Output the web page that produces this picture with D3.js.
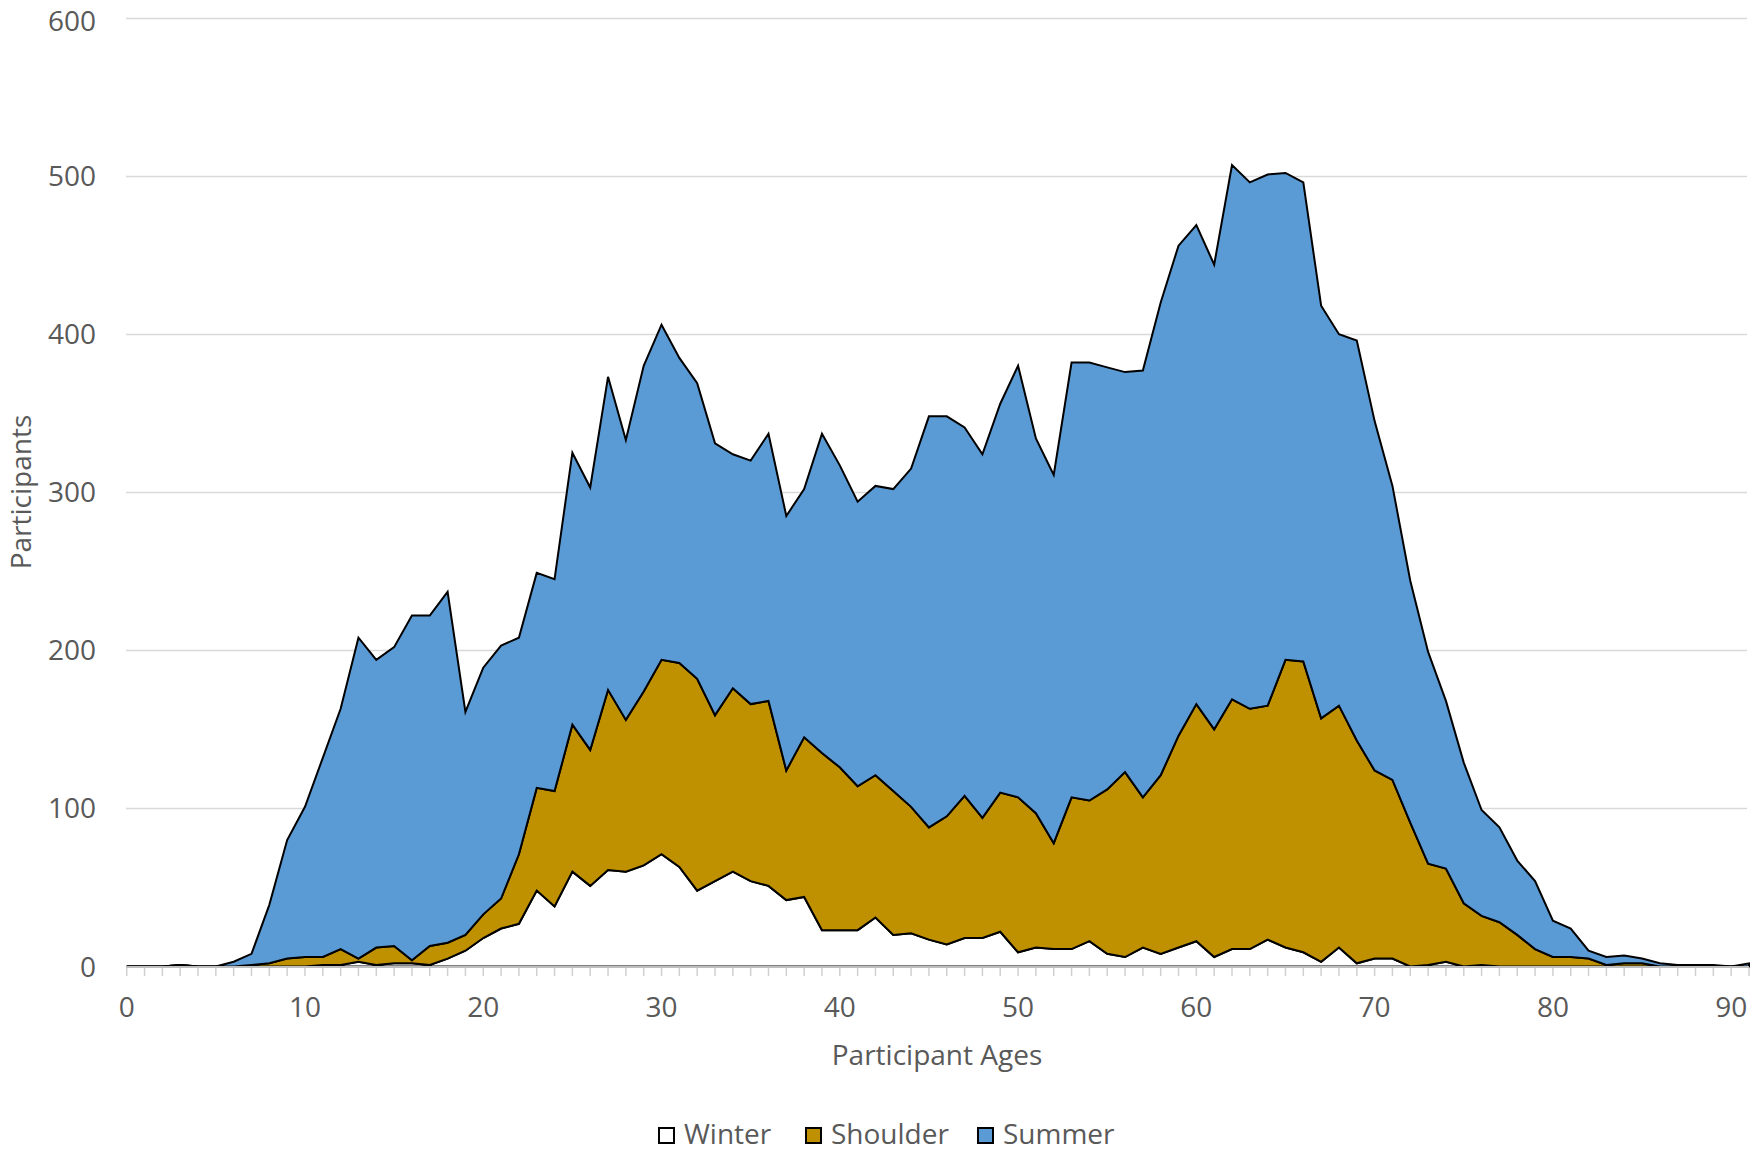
<!DOCTYPE html>
<html>
<head>
<meta charset="utf-8">
<script src="https://cdn.jsdelivr.net/npm/d3@7"></script>
<style>
  html, body { margin: 0; padding: 0; background: #fff; }
  svg { display: block; }
  text { font-family: "Open Sans", sans-serif; fill: #595959; }
</style>
</head>
<body>
<svg id="chart" width="1758" height="1154"></svg>
<script>
const ages = d3.range(0, 92);
const winter = [0,0,0,1,0,0,0,0,0,0, 0,1,1,3,1,2,2,1,5,10, 18,24,27,48,38,60,51,61,60,64,
  71,63,48,54,60,54,51,42,44,23, 23,23,31,20,21,17,14,18,18,22, 9,12,11,11,16,8,6,12,8,12,
  16,6,11,11,17,12,9,3,12,2, 5,5,0,1,3,0,1,0,0,0, 0,0,0,0,0,0,0,0,0,0, 0,0];
const shoulder = [0,0,0,0,0,0,0,1,2,5, 6,5,10,2,11,11,2,12,10,10, 15,19,44,65,73,93,86,114,96,110,
  123,129,134,105,116,112,117,82,101,112, 103,91,90,91,80,71,81,90,76,88, 98,85,67,96,89,104,117,95,113,134,
  150,144,158,152,148,182,184,154,153,141, 119,113,91,64,59,40,31,28,20,11, 6,6,5,1,2,2,0,0,0,0, 0,0];
const summer = [0,0,0,0,0,0,3,7,37,75, 95,126,152,203,182,189,218,209,222,141, 156,160,137,136,134,172,166,198,177,206,
  212,193,187,172,148,154,169,161,157,202, 191,180,183,191,214,260,253,233,230,246, 273,237,233,275,277,267,253,270,299,310,
  303,294,338,333,336,308,303,261,235,253, 221,186,153,134,106,89,67,60,47,43, 23,18,5,5,5,3,2,1,1,1, 0,2];
const seriesNames = ["Winter", "Shoulder", "Summer"];
const seriesColors = ["#ffffff", "#bf9000", "#5b9bd5"];
const yTicks = [0, 100, 200, 300, 400, 500, 600];
const xTicks = [0, 10, 20, 30, 40, 50, 60, 70, 80, 90];

const rows = ages.map((a, i) => ({ age: a, Winter: winter[i], Shoulder: shoulder[i], Summer: summer[i] }));

const svg = d3.select("#chart");
const x = d3.scaleLinear().domain([0, 91]).range([126.7, 1749]);
const y = d3.scaleLinear().domain([0, 600]).range([966.5, 18]);

// gridlines
svg.append("g").selectAll("line").data(yTicks.filter(d => d > 0)).join("line")
  .attr("x1", 126).attr("x2", 1747)
  .attr("y1", d => Math.round(y(d)) + 0.5).attr("y2", d => Math.round(y(d)) + 0.5)
  .attr("stroke", "#d9d9d9").attr("stroke-width", 1.5);

// stacked areas
const stack = d3.stack().keys(seriesNames);
const layers = stack(rows);
const area = d3.area().x(d => x(d.data.age)).y0(d => y(d[0])).y1(d => y(d[1]));
svg.append("g").selectAll("path").data(layers).join("path")
  .attr("d", area)
  .attr("fill", (d, i) => seriesColors[i])
  .attr("stroke", "#000").attr("stroke-width", 2).attr("stroke-linejoin", "miter");

// x axis line and ticks
const axisG = svg.append("g");
axisG.append("line").attr("x1", 126).attr("x2", 1749)
  .attr("y1", 967).attr("y2", 967).attr("stroke", "#bfbfbf").attr("stroke-width", 2);
axisG.selectAll("line.tk").data(ages).join("line").attr("class", "tk")
  .attr("x1", d => x(d)).attr("x2", d => x(d))
  .attr("y1", 968).attr("y2", 976).attr("stroke", "#d0d0d0").attr("stroke-width", 1.5);

// x tick labels
svg.append("g").selectAll("text").data(xTicks).join("text")
  .attr("x", d => x(d)).attr("y", 1017)
  .attr("text-anchor", "middle").attr("font-size", 28).text(d => d);

// y tick labels
svg.append("g").selectAll("text").data(yTicks).join("text")
  .attr("x", 96).attr("y", d => Math.max(y(d) + 10, 31))
  .attr("text-anchor", "end").attr("font-size", 28).text(d => d);

// axis titles
svg.append("text").attr("x", 937).attr("y", 1065).attr("text-anchor", "middle")
  .attr("font-size", 28).text("Participant Ages");
svg.append("text").attr("transform", "translate(31,492) rotate(-90)")
  .attr("text-anchor", "middle").attr("font-size", 28).text("Participants");

// legend
const legendX = [659, 806, 978];
const lg = svg.append("g").selectAll("g").data(seriesNames).join("g")
  .attr("transform", (d, i) => `translate(${legendX[i]},1128)`);
lg.append("rect").attr("width", 15).attr("height", 15)
  .attr("fill", (d, i) => seriesColors[i]).attr("stroke", "#000").attr("stroke-width", 2);
lg.append("text").attr("x", 25).attr("y", 16).attr("font-size", 28).text(d => d);
</script>
</body>
</html>
